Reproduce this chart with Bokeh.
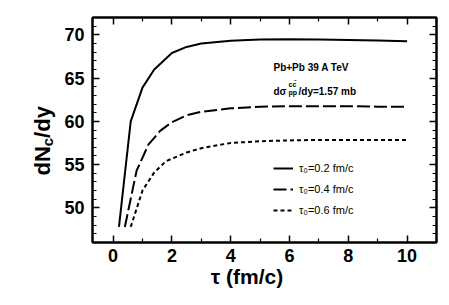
import math
from bokeh.plotting import figure
from bokeh.layouts import row
from bokeh.models import Range1d, FixedTicker, LinearAxis, Label, Legend, LegendItem
from bokeh.embed import file_html
from bokeh.resources import INLINE

# data
tau_a = [0.2, 0.6, 1.0, 1.4, 2.0, 2.5, 3.0, 4.0, 5.0, 6.0, 7.0, 8.0, 9.0, 10.0]
dn_a = [47.8, 60.0, 63.9, 66.0, 67.9, 68.6, 69.0, 69.3, 69.45, 69.5, 69.45, 69.4, 69.35, 69.25]
tau_b = [0.4, 0.8, 1.2, 1.6, 2.0, 2.5, 3.0, 4.0, 5.0, 6.0, 7.0, 8.0, 9.0, 10.0]
dn_b = [47.8, 54.3, 57.3, 58.9, 59.9, 60.7, 61.1, 61.5, 61.7, 61.75, 61.75, 61.75, 61.7, 61.7]
tau_c = [0.6, 1.0, 1.4, 1.8, 2.5, 3.0, 3.5, 4.0, 5.0, 6.0, 7.0, 8.0, 9.0, 10.0]
dn_c = [47.8, 52.0, 54.1, 55.4, 56.4, 56.9, 57.2, 57.5, 57.7, 57.8, 57.85, 57.85, 57.85, 57.85]
labels = ["τ₀=0.2 fm/c", "τ₀=0.4 fm/c", "τ₀=0.6 fm/c"]
x_ticks = [0, 2, 4, 6, 8, 10]
x_minor = [-1, 1, 3, 5, 7, 9, 11]
y_ticks = [50, 55, 60, 65, 70]
y_minor = [v for v in range(46, 73) if v % 5 != 0]

FONT = "Liberation Sans"

def blank(fig):
    fig.xgrid.visible = False
    fig.ygrid.visible = False
    fig.background_fill_color = "white"
    fig.border_fill_color = "white"

p = figure(width=381, height=297, output_backend="svg", toolbar_location=None,
           x_range=Range1d(-0.7, 11.0), y_range=Range1d(46, 72),
           min_border_left=32, min_border_right=5, min_border_top=17, min_border_bottom=55,
           x_axis_type=None, y_axis_type=None)
blank(p)
p.outline_line_color = "black"
p.outline_line_width = 2

def style_axis(ax, ticks, show_labels, standoff):
    ax.axis_line_width = 2
    ax.axis_line_color = "black"
    ax.major_tick_in = 7
    ax.major_tick_out = 0
    ax.minor_tick_in = 4
    ax.minor_tick_out = 0
    ax.major_tick_line_width = 1.5
    ax.minor_tick_line_width = 1.2
    ax.major_tick_line_color = "black"
    ax.minor_tick_line_color = "black"
    ax.major_label_text_font = FONT
    ax.major_label_text_font_style = "bold"
    ax.major_label_text_font_size = "18px"
    ax.major_label_text_color = "black"
    if show_labels:
        ax.major_label_standoff = standoff
    else:
        ax.major_label_overrides = {t: "" for t in ticks}
        ax.major_label_standoff = 0

xt = FixedTicker(ticks=x_ticks, minor_ticks=x_minor)
yt = FixedTicker(ticks=y_ticks, minor_ticks=y_minor)

xb = LinearAxis(ticker=xt)
style_axis(xb, x_ticks, True, 6)
xb.axis_label = "τ (fm/c)" + "\u00a0" * 6
xb.axis_label_text_font = FONT
xb.axis_label_text_font_style = "bold"
xb.axis_label_text_font_size = "21px"
xb.axis_label_text_color = "black"
xb.axis_label_standoff = 0
p.add_layout(xb, "below")

xa = LinearAxis(ticker=xt)
style_axis(xa, x_ticks, False, 0)
p.add_layout(xa, "above")

yl = LinearAxis(ticker=yt)
style_axis(yl, y_ticks, True, 8)
p.add_layout(yl, "left")
yr = LinearAxis(ticker=yt)
style_axis(yr, y_ticks, False, 0)
p.add_layout(yr, "right")

r1 = p.line(tau_a, dn_a, line_color="black", line_width=2)
r2 = p.line(tau_b, dn_b, line_color="black", line_width=2, line_dash="13 4")
r3 = p.line(tau_c, dn_c, line_color="black", line_width=2, line_dash="4 3")

legend = Legend(items=[LegendItem(label=labels[0], renderers=[r1]),
                       LegendItem(label=labels[1], renderers=[r2]),
                       LegendItem(label=labels[2], renderers=[r3])],
                location=(181, 22), padding=0, margin=0, spacing=1,
                glyph_width=20, glyph_height=20, label_height=20, label_standoff=6,
                border_line_color=None, background_fill_alpha=0,
                label_text_font=FONT, label_text_font_size="11px", label_text_color="black")
p.add_layout(legend, "center")

def lab(fig, text, x, y, size, bold=True, angle=0, align="left"):
    fig.add_layout(Label(text=text, x=x, y=y, x_units="screen", y_units="screen",
                         text_font=FONT, text_font_size=size,
                         text_font_style="bold" if bold else "normal",
                         text_color="black", angle=angle, text_align=align,
                         text_baseline="alphabetic"))

# annotations inside the frame
lab(p, "Pb+Pb 39 A TeV", 181, 175, "10px")
lab(p, "dσ", 181, 151.5, "10px")
lab(p, "cc̄", 196, 158, "7px")
lab(p, "pp", 196, 150, "7px")
lab(p, "/dy=1.57 mb", 206, 151.5, "10px")

# y-axis title: strip to the left (its frame is aligned with the main frame)
yfig = figure(width=60, height=297, output_backend="svg", toolbar_location=None,
              x_range=Range1d(0, 1), y_range=Range1d(0, 1),
              min_border=0, x_axis_type=None, y_axis_type=None)
blank(yfig)
yfig.outline_line_color = None
lab(yfig, "dN", 42, 67, "22px", angle=math.pi / 2)
lab(yfig, "c", 47, 96.3, "15px", angle=math.pi / 2)
lab(yfig, "/dy", 42, 104.6, "22px", angle=math.pi / 2)

layout = row(yfig, p)
open("out.html", "w").write(file_html(layout, INLINE))
